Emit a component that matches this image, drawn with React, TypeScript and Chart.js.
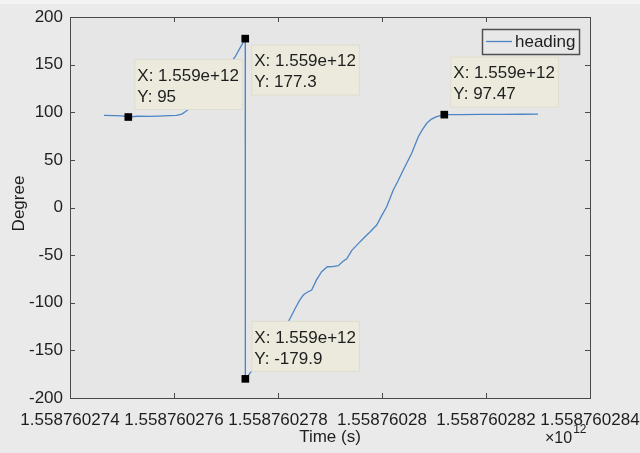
import React, { useEffect, useRef } from "react";
import { Chart, registerables } from "chart.js";

Chart.register(...registerables);

// ---------- data ----------
const TIME_BASE_MS = 1558760274000;
const seriesLabel = "heading";

const timeOffsetsMs = [
  654, 850, 1000, 1121, 1300, 1500, 1700, 1900, 2050, 2150, 2230, 2400, 2700, 3000, 3174, 3370,
  3372, 3520, 3800, 4050, 4217, 4330, 4420, 4487, 4560, 4648, 4740, 4840, 4948, 5050, 5160, 5240,
  5321, 5420, 5544, 5650, 5769, 5898, 6000, 6090, 6217, 6300, 6409, 6571, 6698, 6780, 6860, 6950,
  7052, 7198, 7500, 7900, 8300, 8700, 9000,
];
const headingDeg = [
  96.8, 96.5, 96.2, 95.0, 95.8, 95.6, 96.0, 96.4, 96.8, 98.0, 101.0, 108, 125, 145, 158, 177.3,
  -179.9, -170, -150, -130, -118.1, -106, -97, -91.9, -89, -86.6, -76, -67.4, -62.2, -62.0, -61.1, -57,
  -53.8, -45, -37.9, -32, -25.7, -18.4, -8, 0.8, 18.4, 27, 39.4, 56.9, 74.3, 82, 88.4, 92.8,
  95.3, 97.47, 97.6, 97.8, 97.7, 97.9, 98.0,
];

const tipOffsetsMs = [1121, 3370, 3372, 7198];
const tipHeadingDeg = [95, 177.3, -179.9, 97.47];

const xTickOffsetsMs = [0, 2000, 4000, 6000, 8000, 10000];
const xTickLabels = ["1.558760274", "1.558760276", "1.558760278", "1.55876028", "1.558760282", "1.558760284"];
const yTickValues = [-200, -150, -100, -50, 0, 50, 100, 150, 200];
const yTickLabels = ["-200", "-150", "-100", "-50", "0", "50", "100", "150", "200"];

const xTitle = "Time (s)";
const yTitle = "Degree";
const xExponentBase = "\u00d710";
const xExponent = "12";

// ---------- styles ----------
const FONT = "'Liberation Sans', Arial, sans-serif";
const TEXT = "#1e1e1e";
const LINE = "#4d85c4";
const FS = 17;
const tipPlacement = ["above", "below", "above", "above"];

const fmtX = (v: number) => v.toExponential(3);
const fmtY = (v: number) => String(Number(v.toPrecision(4)));

const decorPlugin = {
  id: "decor",
  beforeDraw(chart: any) {
    const { ctx, chartArea: a, width, height } = chart;
    ctx.save();
    ctx.fillStyle = "#eaeaea";
    ctx.fillRect(0, 0, width, height);
    ctx.fillStyle = "#f3f3f3";
    ctx.fillRect(0, 0, width, 4);
    ctx.fillStyle = "#e6e6e6";
    ctx.fillRect(a.left, a.top, a.right - a.left, a.bottom - a.top);
    ctx.restore();
  },
  afterDatasetsDraw(chart: any) {
    const { ctx, chartArea: a, scales } = chart;
    const xs = scales.x, ys = scales.y;
    ctx.save();
    // frame
    ctx.strokeStyle = "#4a4a4a";
    ctx.lineWidth = 1;
    ctx.strokeRect(Math.round(a.left) + 0.5, Math.round(a.top) + 0.5, Math.round(a.right - a.left), Math.round(a.bottom - a.top));
    // inward ticks
    const tl = 5;
    ctx.beginPath();
    xTickOffsetsMs.forEach((o) => {
      const px = Math.round(xs.getPixelForValue(TIME_BASE_MS + o)) + 0.5;
      ctx.moveTo(px, a.bottom); ctx.lineTo(px, a.bottom - tl);
      ctx.moveTo(px, a.top); ctx.lineTo(px, a.top + tl);
    });
    yTickValues.forEach((v) => {
      const py = Math.round(ys.getPixelForValue(v)) + 0.5;
      ctx.moveTo(a.left, py); ctx.lineTo(a.left + tl, py);
      ctx.moveTo(a.right, py); ctx.lineTo(a.right - tl, py);
    });
    ctx.stroke();

    // data tips
    ctx.font = `${FS}px ${FONT}`;
    ctx.textBaseline = "middle";
    tipOffsetsMs.forEach((o, i) => {
      const xv = TIME_BASE_MS + o;
      const yv = tipHeadingDeg[i];
      const px = xs.getPixelForValue(xv);
      const py = ys.getPixelForValue(yv);
      const l1 = `X: ${fmtX(xv)}`;
      const l2 = `Y: ${fmtY(yv)}`;
      const w = Math.max(ctx.measureText(l1).width, ctx.measureText(l2).width) + 7;
      const h = 51;
      const left = px + 6;
      const top = tipPlacement[i] === "below" ? py + 6 : py - 7 - h;
      ctx.fillStyle = "#ebeadd";
      ctx.fillRect(left, top, w, h);
      ctx.strokeStyle = "#dedcd0";
      ctx.strokeRect(left + 0.5, top + 0.5, w - 1, h - 1);
      ctx.fillStyle = TEXT;
      ctx.textAlign = "left";
      ctx.fillText(l1, left + 3, top + 17);
      ctx.fillText(l2, left + 3, top + 38);
    });

    // legend
    const lw = 97, lh = 25;
    const lx = a.right - 11 - lw, ly = a.top + 12;
    ctx.fillStyle = "#e8e8e8";
    ctx.fillRect(lx, ly, lw, lh);
    ctx.strokeStyle = "#505050";
    ctx.lineWidth = 1.5;
    ctx.strokeRect(lx + 0.5, ly + 0.5, lw, lh);
    ctx.strokeStyle = LINE;
    ctx.lineWidth = 1.3;
    ctx.beginPath();
    ctx.moveTo(lx + 4, ly + 12.5);
    ctx.lineTo(lx + 30, ly + 12.5);
    ctx.stroke();
    ctx.fillStyle = TEXT;
    ctx.font = `${FS}px ${FONT}`;
    ctx.fillText(seriesLabel, lx + 33, ly + 13);
    ctx.restore();
  },
  afterDraw(chart: any) {
    const { ctx, chartArea: a } = chart;
    ctx.save();
    ctx.fillStyle = TEXT;
    ctx.font = `${FS}px ${FONT}`;
    ctx.textAlign = "center";
    ctx.textBaseline = "middle";
    ctx.fillText(xTitle, (a.left + a.right) / 2, 437);
    ctx.save();
    ctx.translate(19, (a.top + a.bottom) / 2 - 4);
    ctx.rotate(-Math.PI / 2);
    ctx.fillText(yTitle, 0, 0);
    ctx.restore();
    // exponent
    ctx.textAlign = "left";
    ctx.font = `16px ${FONT}`;
    const bw = ctx.measureText(xExponentBase).width;
    const bx = 545;
    ctx.fillText(xExponentBase, bx, 439);
    ctx.font = `12px ${FONT}`;
    ctx.fillText(xExponent, bx + bw + 1, 430);
    ctx.restore();
  },
};

export default function App() {
  const ref = useRef<HTMLCanvasElement | null>(null);
  useEffect(() => {
    if (!ref.current) return;
    const chart = new Chart(ref.current, {
      type: "line",
      data: {
        datasets: [
          {
            label: seriesLabel,
            order: 2,
            data: timeOffsetsMs.map((o, i) => ({ x: TIME_BASE_MS + o, y: headingDeg[i] })),
            borderColor: LINE,
            borderWidth: 1.3,
            pointRadius: 0,
            tension: 0,
            fill: false,
          },
          {
            label: "tips",
            order: 1,
            data: tipOffsetsMs.map((o, i) => ({ x: TIME_BASE_MS + o, y: tipHeadingDeg[i] })),
            showLine: false,
            pointStyle: "rect",
            pointRadius: 5.4,
            backgroundColor: "#000",
            borderColor: "#000",
            borderWidth: 0,
          },
        ],
      },
      options: {
        animation: false,
        responsive: false,
        maintainAspectRatio: false,
        layout: { padding: { top: 17, right: 50, left: 0, bottom: 0 }, autoPadding: false },
        plugins: { legend: { display: false }, tooltip: { enabled: false } },
        scales: {
          x: {
            type: "linear",
            min: TIME_BASE_MS + xTickOffsetsMs[0],
            max: TIME_BASE_MS + xTickOffsetsMs[xTickOffsetsMs.length - 1],
            grid: { display: false, drawTicks: false },
            border: { display: false },
            afterBuildTicks: (s: any) => {
              s.ticks = xTickOffsetsMs.map((o) => ({ value: TIME_BASE_MS + o }));
            },
            afterFit: (s: any) => {
              s.height = 55;
              s.paddingLeft = 0;
              s.paddingRight = 0;
            },
            ticks: {
              autoSkip: false,
              maxRotation: 0,
              padding: 12,
              color: TEXT,
              font: { family: FONT, size: FS },
              callback: (v: any) => {
                const idx = xTickOffsetsMs.findIndex((o) => TIME_BASE_MS + o === v);
                return idx >= 0 ? xTickLabels[idx] : "";
              },
            },
          },
          y: {
            type: "linear",
            min: yTickValues[0],
            max: yTickValues[yTickValues.length - 1],
            grid: { display: false, drawTicks: false },
            border: { display: false },
            afterBuildTicks: (s: any) => {
              s.ticks = yTickValues.map((v) => ({ value: v }));
            },
            afterFit: (s: any) => {
              s.width = 70;
              s.paddingTop = 0;
              s.paddingBottom = 0;
            },
            ticks: {
              padding: 7,
              color: TEXT,
              font: { family: FONT, size: FS },
              callback: (v: any) => {
                const idx = yTickValues.indexOf(v);
                return idx >= 0 ? yTickLabels[idx] : "";
              },
            },
          },
        },
      },
      plugins: [decorPlugin],
    } as any);
    return () => chart.destroy();
  }, []);
  return (
    <div style={{ position: "absolute", left: 0, top: 0, width: 640, height: 453 }}>
      <canvas ref={ref} width={640} height={453} style={{ display: "block" }} />
    </div>
  );
}
